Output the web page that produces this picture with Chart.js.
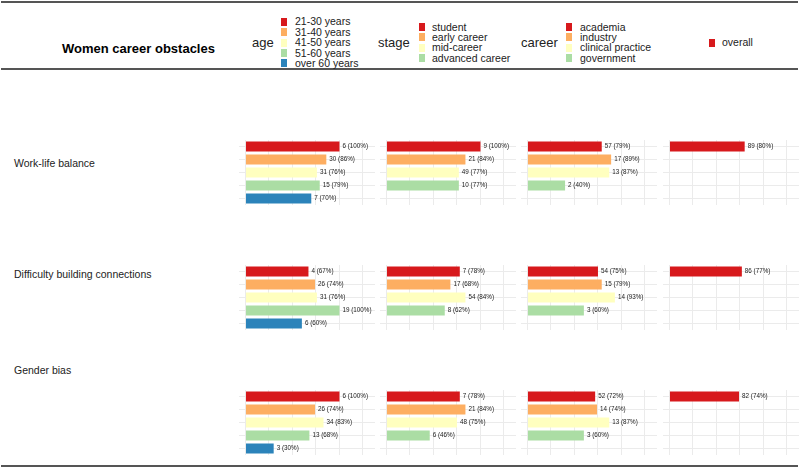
<!DOCTYPE html>
<html>
<head>
<meta charset="utf-8">
<script src="https://cdn.jsdelivr.net/npm/chart.js@4.4.0/dist/chart.umd.min.js"></script>
<style>
  body { margin: 0; background: #fff; font-family: "Liberation Sans", Arial, sans-serif; }
  #wrap { position: relative; width: 800px; height: 468px; overflow: hidden; }
  .rule { position: absolute; left: 1px; width: 797px; height: 2px; background: #555; }
  .txt { position: absolute; white-space: nowrap; color: #222; }
  .key { position: absolute; width: 6px; height: 8px; }
  canvas { position: absolute; }
</style>
</head>
<body>
<div id="wrap"></div>
<script>
// Datos
const obstacles = ['Work-life balance', 'Difficulty building connections', 'Gender bias'];
const ageGroups = ['21-30 years', '31-40 years', '41-50 years', '51-60 years', 'over 60 years'];
const stageGroups = ['student', 'early career', 'mid-career', 'advanced career'];
const careerGroups = ['academia', 'industry', 'clinical practice', 'government'];
const overallGroups = ['overall'];

// n por obstáculo (filas) y grupo
const ageCounts = [[6, 30, 31, 15, 7], [4, 26, 31, 19, 6], [6, 26, 34, 13, 3]];
const agePct = [[100, 86, 76, 79, 70], [67, 74, 76, 100, 60], [100, 74, 83, 68, 30]];
const stageCounts = [[9, 21, 49, 10], [7, 17, 54, 8], [7, 21, 48, 6]];
const stagePct = [[100, 84, 77, 77], [78, 68, 84, 62], [78, 84, 75, 46]];
const careerCounts = [[57, 17, 13, 2], [54, 15, 14, 3], [52, 14, 13, 3]];
const careerPct = [[79, 89, 87, 40], [75, 79, 93, 60], [72, 74, 87, 60]];
const overallCounts = [[89], [86], [82]];
const overallPct = [[80], [77], [74]];

const palette = ['#d7191c', '#fdae61', '#ffffbf', '#abdda4', '#2b83ba'];
const gridColor = '#ebebeb';

const wrap = document.getElementById('wrap');

function addText(text, left, centerY, size, extra) {
  const d = document.createElement('div');
  d.className = 'txt';
  d.textContent = text;
  d.style.left = left + 'px';
  d.style.top = (centerY - size * 0.6) + 'px';
  d.style.fontSize = size + 'px';
  d.style.lineHeight = (size * 1.2) + 'px';
  if (extra) Object.assign(d.style, extra);
  wrap.appendChild(d);
}

function addRule(top) {
  const d = document.createElement('div');
  d.className = 'rule';
  d.style.top = top + 'px';
  wrap.appendChild(d);
}

// Cabecera
addRule(1);
addRule(68);
addRule(465);
addText('Women career obstacles', 62, 49, 13, { fontWeight: 'bold', color: '#000' });

const legends = [
  { title: 'age', titleX: 252, keyX: 281, textX: 295, items: ageGroups },
  { title: 'stage', titleX: 378, keyX: 419, textX: 432, items: stageGroups },
  { title: 'career', titleX: 521, keyX: 566, textX: 580, items: careerGroups },
  { title: '', titleX: 0, keyX: 709, textX: 722, items: overallGroups }
];
const legendCenter = 42.5;
const legendPitch = 10.4;

legends.forEach(lg => {
  if (lg.title) addText(lg.title, lg.titleX, 43, 13);
  lg.items.forEach((item, i) => {
    const cy = legendCenter + (i - (lg.items.length - 1) / 2) * legendPitch;
    const k = document.createElement('div');
    k.className = 'key';
    k.style.left = lg.keyX + 'px';
    k.style.top = (cy - 4) + 'px';
    k.style.background = palette[i];
    wrap.appendChild(k);
    addText(item, lg.textX, cy, 10.5);
  });
});

// Etiquetas de filas
const rowLabelY = [163, 274, 370];
obstacles.forEach((o, r) => addText(o, 14, rowLabelY[r], 10.5));

// Plugin de etiquetas "n (pct%)"
const barLabels = {
  id: 'barLabels',
  afterDatasetsDraw(chart) {
    const ctx = chart.ctx;
    const counts = chart.config.options.plugins.barLabels.counts;
    const meta = chart.getDatasetMeta(0);
    const values = chart.data.datasets[0].data;
    ctx.save();
    ctx.font = '6.3px "Liberation Sans", Arial, sans-serif';
    ctx.fillStyle = '#222';
    ctx.textBaseline = 'middle';
    meta.data.forEach((bar, i) => {
      if (values[i] == null) return;
      ctx.fillText(counts[i] + ' (' + values[i] + '%)', bar.x + 3, bar.y - 0.5);
    });
    ctx.restore();
  }
};

const panelLefts = [238.5, 380, 521, 663];
const rowTops = [140, 265, 390];
const slots = [0, 1, 2, 3, 4];

function pad(arr) {
  return slots.map(i => (i < arr.length ? arr[i] : null));
}

function makePanel(row, col, counts, pct) {
  const canvas = document.createElement('canvas');
  canvas.width = 136;
  canvas.height = 65;
  canvas.style.left = panelLefts[col] + 'px';
  canvas.style.top = rowTops[row] + 'px';
  canvas.style.width = '136px';
  canvas.style.height = '65px';
  wrap.appendChild(canvas);

  new Chart(canvas.getContext('2d'), {
    type: 'bar',
    data: {
      labels: slots.map(String),
      datasets: [{
        data: pad(pct),
        backgroundColor: palette,
        borderWidth: 0,
        barPercentage: 0.77,
        categoryPercentage: 1
      }]
    },
    options: {
      indexAxis: 'y',
      responsive: false,
      animation: false,
      layout: { padding: 0 },
      scales: {
        x: {
          type: 'linear',
          min: -6.9,
          max: 137.8,
          ticks: { display: false, stepSize: 25, includeBounds: false },
          grid: { color: gridColor, lineWidth: 1, drawTicks: false },
          border: { display: false }
        },
        y: {
          offset: true,
          ticks: { display: false },
          grid: { color: gridColor, lineWidth: 1, drawTicks: false, offset: false },
          border: { display: false }
        }
      },
      plugins: {
        legend: { display: false },
        tooltip: { enabled: false },
        barLabels: { counts: counts }
      }
    },
    plugins: [barLabels]
  });
}

obstacles.forEach((o, r) => {
  makePanel(r, 0, ageCounts[r], agePct[r]);
  makePanel(r, 1, stageCounts[r], stagePct[r]);
  makePanel(r, 2, careerCounts[r], careerPct[r]);
  makePanel(r, 3, overallCounts[r], overallPct[r]);
});
</script>
</body>
</html>
